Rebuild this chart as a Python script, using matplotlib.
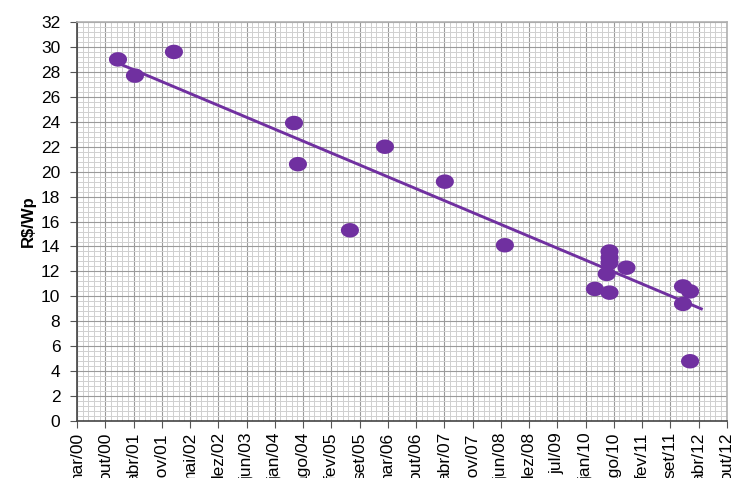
import matplotlib.pyplot as plt
import numpy as np
from matplotlib.ticker import MultipleLocator

plt.rcParams['font.family'] = ['Liberation Sans', 'DejaVu Sans']

# Tick labels (Excel date axis, one label every 200 days from mar/00)
tick_labels = ['mar/00', 'out/00', 'abr/01', 'nov/01', 'mai/02', 'dez/02', 'jun/03',
               'jan/04', 'ago/04', 'fev/05', 'set/05', 'mar/06', 'out/06', 'abr/07',
               'nov/07', 'jun/08', 'dez/08', 'jul/09', 'jan/10', 'ago/10', 'fev/11',
               'set/11', 'abr/12', 'out/12']

# Data: days since mar/00 and price in R$/Wp
days = [290, 410, 686, 1536, 1564, 1932, 2180, 2604, 3029, 3666, 3750,
        3770, 3770, 3770, 3770, 3890, 4290, 4340, 4290, 4340]
price = [29.0, 27.7, 29.6, 23.9, 20.6, 15.3, 22.0, 19.2, 14.1, 10.6, 11.8,
         13.6, 13.1, 12.7, 10.3, 12.3, 10.8, 10.4, 9.4, 4.8]

# Trend line end points
trend_days = [290, 4420]
trend_price = [28.7, 9.0]

purple = '#7030A0'
t = np.linspace(0, 2 * np.pi, 40)
ellipse = np.column_stack([1.25 * np.cos(t), np.sin(t)])

fig = plt.figure(figsize=(7.35, 4.78), dpi=100)
ax = fig.add_axes([0.1048, 0.119, 0.884, 0.835])

ax.plot(trend_days, trend_price, color=purple, linewidth=2.1, zorder=3)
ax.scatter(days, price, marker=ellipse, s=170, color=purple, edgecolors='none', zorder=4)

ax.set_xlim(0, 4600)
ax.set_ylim(0, 32)
ax.set_xticks(np.arange(0, 4601, 200))
ax.set_xticklabels(tick_labels, rotation=90, fontsize=12.5)
ax.xaxis.set_minor_locator(MultipleLocator(40))
ax.set_yticks(np.arange(0, 33, 2))
ax.yaxis.set_minor_locator(MultipleLocator(0.4))
ax.tick_params(axis='y', labelsize=12.5, pad=7)
ax.tick_params(axis='x', pad=3)
ax.tick_params(which='major', direction='out', length=5, color='#555555')
ax.tick_params(which='minor', length=0)

ax.grid(which='major', color='#9a9a9a', linewidth=0.8)
ax.grid(which='minor', color='#d0d0d0', linewidth=0.7)
ax.set_axisbelow(True)

for side in ['left', 'bottom']:
    ax.spines[side].set_color('#444444')
    ax.spines[side].set_linewidth(1.2)
for side in ['top', 'right']:
    ax.spines[side].set_color('#b0b0b0')
    ax.spines[side].set_linewidth(1.2)

ax.set_ylabel('R$/Wp', fontsize=12, fontweight='bold', labelpad=4)

fig.savefig('out.png', dpi=100)
